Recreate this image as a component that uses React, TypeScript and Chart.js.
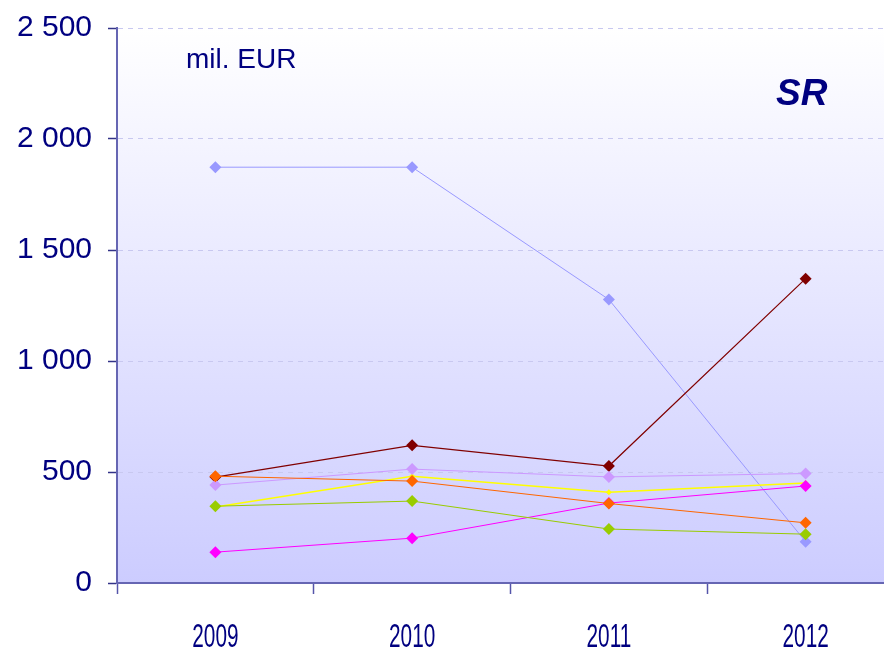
import React, { useEffect, useRef } from "react";
import { Chart, registerables } from "chart.js";

Chart.register(...registerables);

const years = ["2009", "2010", "2011", "2012"];
const seriesBlue = [1873, 1873, 1277, 186];
const seriesDarkRed = [477, 620, 527, 1371];
const seriesOrange = [481, 459, 358, 271];
const seriesLilac = [441, 513, 478, 493];
const seriesYellow = [342, 481, 409, 451];
const seriesGreen = [346, 369, 243, 220];
const seriesMagenta = [139, 202, 360, 437];
const yMin = 0;
const yMax = 2500;
const yStep = 500;
const unitLabel = "mil. EUR";
const regionLabel = "SR";

const NAVY = "#000080";

const fmt = (v: number) => {
  const s = String(Math.round(v));
  return s.replace(/\B(?=(\d{3})+(?!\d))/g, " ");
};

const bgPlugin = {
  id: "bgGradient",
  beforeDraw(chart: any) {
    const { ctx, chartArea } = chart;
    if (!chartArea) return;
    const { left, top, right, bottom } = chartArea;
    const g = ctx.createLinearGradient(0, top, 0, bottom);
    g.addColorStop(0, "#ffffff");
    g.addColorStop(1, "#ccccff");
    ctx.save();
    ctx.fillStyle = g;
    ctx.fillRect(left, top, right - left, bottom - top);
    ctx.restore();
  },
};

const textPlugin = {
  id: "texts",
  afterDraw(chart: any) {
    const { ctx } = chart;
    const xs = chart.scales.x;
    ctx.save();
    ctx.fillStyle = NAVY;
    ctx.font = '33px "Liberation Sans", Arial, sans-serif';
    ctx.textAlign = "center";
    ctx.textBaseline = "alphabetic";
    years.forEach((lab, i) => {
      const x = xs.getPixelForValue(i);
      ctx.save();
      ctx.translate(x, 647);
      ctx.scale(0.63, 1);
      ctx.fillText(lab, 0, 0);
      ctx.restore();
    });
    ctx.textAlign = "left";
    ctx.font = '28px "Liberation Sans", Arial, sans-serif';
    ctx.fillText(unitLabel, 186, 68);
    ctx.font = 'italic bold 37px "Liberation Sans", Arial, sans-serif';
    ctx.fillText(regionLabel, 776, 105);
    ctx.restore();
  },
};

const mk = (label: string, data: number[], color: string, width = 1, radius = 6) => ({
  label,
  data,
  borderColor: color,
  backgroundColor: color,
  borderWidth: width,
  pointStyle: "rectRot" as const,
  pointRadius: radius,
  pointBackgroundColor: color,
  pointBorderColor: color,
  pointBorderWidth: 0,
  tension: 0,
});

export default function App() {
  const ref = useRef<HTMLCanvasElement | null>(null);
  useEffect(() => {
    if (!ref.current) return;
    const chart = new Chart(ref.current, {
      type: "line",
      data: {
        labels: years,
        datasets: [
          mk("orange", seriesOrange, "#ff6600"),
          mk("green", seriesGreen, "#99cc00"),
          mk("magenta", seriesMagenta, "#ff00ff"),
          mk("lilac", seriesLilac, "#cc99ff"),
          mk("yellow", seriesYellow, "#ffff00", 1.5, 3),
          mk("darkred", seriesDarkRed, "#800000", 1.2),
          mk("blue", seriesBlue, "#9999ff"),
        ],
      },
      options: {
        responsive: false,
        animation: false,
        layout: { autoPadding: false, padding: { top: 27, left: 0, right: 0, bottom: 0 } },
        plugins: { legend: { display: false }, tooltip: { enabled: false } },
        scales: {
          x: {
            offset: true,
            grid: {
              offset: true,
              drawOnChartArea: false,
              drawTicks: true,
              tickLength: 11,
              tickColor: "#5555aa",
              tickWidth: 1.5,
            },
            border: { color: "#6666b3", width: 2 },
            ticks: { display: false },
            afterFit(scale: any) {
              scale.height = 67;
            },
          },
          y: {
            min: yMin,
            max: yMax,
            ticks: {
              stepSize: yStep,
              color: NAVY,
              padding: 16,
              font: { family: '"Liberation Sans", Arial, sans-serif', size: 30, lineHeight: 0.8 },
              callback: (v: any) => fmt(Number(v)),
            },
            grid: {
              color: "#c8c8f0",
              lineWidth: 1,
              tickLength: 9,
              tickColor: "#333388",
              tickWidth: 1.5,
              tickBorderDash: [],
            },
            border: { color: "#6666b3", width: 2, dash: [5, 5] },
            afterFit(scale: any) {
              scale.width = 117;
            },
          },
        },
      },
      plugins: [bgPlugin, textPlugin],
    });
    return () => chart.destroy();
  }, []);
  return (
    <div style={{ position: "absolute", left: 0, top: 0, width: 884, height: 650, overflow: "hidden", background: "#fff" }}>
      <canvas ref={ref} width={904} height={650} style={{ display: "block" }} />
    </div>
  );
}
